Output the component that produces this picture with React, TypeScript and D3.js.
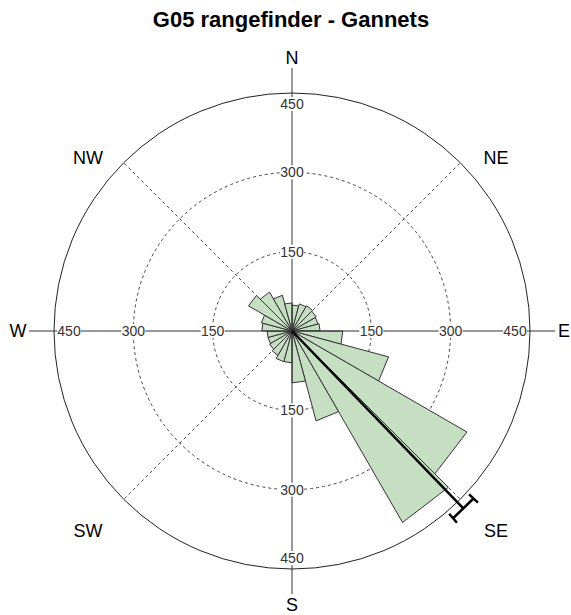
import * as d3 from 'd3';

// rose bins (start bearing, degrees clockwise from north) and their lengths in axis units
const binStarts = [0, 15, 30, 45, 60, 75, 90, 105, 120, 135, 150, 165, 180, 195, 210, 225, 240, 255, 270, 285, 300, 315, 330, 345];
const binValues = [49, 53, 55, 53, 51, 53, 96, 189, 382, 418, 176, 98, 60, 60, 53, 49, 47, 47, 57, 60, 95, 85, 70, 53];
const binWidth = 15;

// mean direction with its confidence bar
const meanDir = 136;
const meanLen = 467;
const ciHalf = 3.3;

const ringTicks = [150, 300];
const outerTick = 450;
const axisDirs = [0, 90, 180, 270];
const diagDirs = [45, 135, 225, 315];
const compass = ['N', 'E', 'S', 'W'];
const corners = ['NE', 'SE', 'SW', 'NW'];

const W = 571;
const H = 615;
const CX = 292;
const CY = 331;
const R = 238;
const FONT = 'Liberation Sans, Arial, sans-serif';

const r = d3.scaleLinear().domain([0, outerTick]).range([0, R]);
const rad = (deg: number) => (deg * Math.PI) / 180;
const pt = (deg: number, len: number): [number, number] => [
  CX + len * Math.sin(rad(deg)),
  CY - len * Math.cos(rad(deg)),
];

const TickLabel = ({ x, y, text }: { x: number; y: number; text: string }) => (
  <g>
    <rect x={x - 12} y={y - 7} width={24} height={14} fill="white" />
    <text x={x} y={y} textAnchor="middle" dominantBaseline="central" fontSize={14} fill="#333" fontFamily={FONT}>
      {text}
    </text>
  </g>
);

export default function App() {
  const line = d3.line();

  const wedges = binStarts.map((b, i) => {
    const len = r(binValues[i]);
    return line([[CX, CY], pt(b, len), pt(b + binWidth, len)])! + 'Z';
  });

  const mEnd = pt(meanDir, r(meanLen));
  const ciA = pt(meanDir - ciHalf, r(meanLen));
  const ciB = pt(meanDir + ciHalf, r(meanLen));
  const cap = (deg: number) => [pt(deg, r(meanLen) - 6), pt(deg, r(meanLen) + 6)];

  // tick label positions along the four axes
  const labels: { x: number; y: number; text: string }[] = [];
  axisDirs.forEach((d) => {
    ringTicks.forEach((t) => {
      const [x, y] = pt(d, r(t));
      labels.push({ x, y, text: String(t) });
    });
    const [x, y] = pt(d, R - (d % 180 === 0 ? 11 : 15));
    labels.push({ x, y, text: String(outerTick) });
  });

  // offsets of the N, E, S, W labels beyond the outer ring
  const compassOff = [35, 34, 36, 36];

  return (
    <svg width={W} height={H} style={{ position: 'absolute', left: 0, top: 0 }}>
      <rect width={W} height={H} fill="white" />
      <text x={291} y={27} textAnchor="middle" fontSize={22} fontWeight="bold" fontFamily={FONT} fill="#000">
        G05 rangefinder - Gannets
      </text>

      {ringTicks.map((t) => (
        <circle key={t} cx={CX} cy={CY} r={r(t)} fill="none" stroke="#444" strokeDasharray="3,3" />
      ))}
      {diagDirs.map((d) => {
        const [x, y] = pt(d, R);
        return <line key={d} x1={CX} y1={CY} x2={x} y2={y} stroke="#444" strokeDasharray="3,3" />;
      })}
      <circle cx={CX} cy={CY} r={R} fill="none" stroke="#222" />

      {wedges.map((p, i) => (
        <path key={i} d={p} fill="#c6dfc3" stroke="#333" strokeWidth={1} strokeLinejoin="round" />
      ))}

      {axisDirs.map((d) => {
        const [x, y] = pt(d, R + 25);
        return <line key={d} x1={CX} y1={CY} x2={x} y2={y} stroke="#333" />;
      })}

      <line x1={CX} y1={CY} x2={mEnd[0]} y2={mEnd[1]} stroke="#000" strokeWidth={2.5} />
      <g stroke="#000" strokeWidth={2.5}>
        <line x1={ciA[0]} y1={ciA[1]} x2={ciB[0]} y2={ciB[1]} />
        {[meanDir - ciHalf, meanDir + ciHalf].map((d) => {
          const [a, b] = cap(d);
          return <line key={d} x1={a[0]} y1={a[1]} x2={b[0]} y2={b[1]} />;
        })}
      </g>

      {labels.map((l, i) => (
        <TickLabel key={i} {...l} />
      ))}

      {compass.map((c, i) => {
        const [x, y] = pt(axisDirs[i], R + compassOff[i]);
        return (
          <text key={c} x={x} y={y} textAnchor="middle" dominantBaseline="central" fontSize={18} fontFamily={FONT} fill="#000">
            {c}
          </text>
        );
      })}
      {corners.map((c, i) => {
        const d = diagDirs[i];
        const x = CX + (Math.sin(rad(d)) > 0 ? 204 : -204);
        const y = CY + (Math.cos(rad(d)) > 0 ? -173 : 200);
        return (
          <text key={c} x={x} y={y} textAnchor="middle" dominantBaseline="central" fontSize={18} fontFamily={FONT} fill="#000">
            {c}
          </text>
        );
      })}
    </svg>
  );
}
